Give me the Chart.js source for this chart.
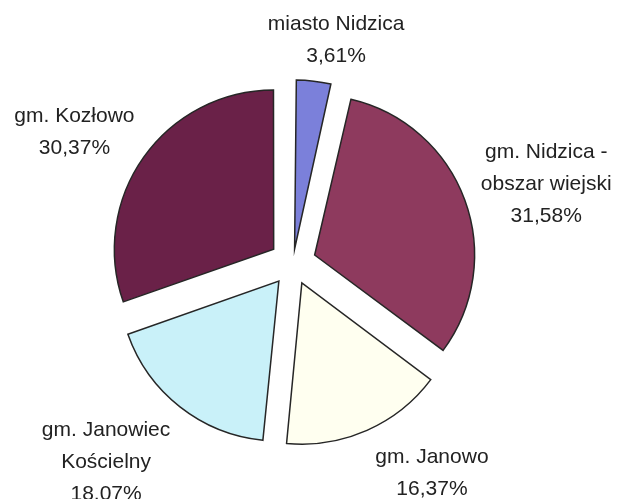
<!DOCTYPE html>
<html lang="pl">
<head>
<meta charset="utf-8">
<title>Struktura - gminy</title>
<script src="https://cdn.jsdelivr.net/npm/chart.js@4.4.1/dist/chart.umd.min.js"></script>
<style>
    html, body { margin: 0; padding: 0; background: #fff; }
    #wrap { width: 621px; height: 499px; }
</style>
</head>
<body>
<div id="wrap"><canvas id="pie" width="621" height="499"></canvas></div>
<script>
// Data
var categories = [
    ['miasto Nidzica'],
    ['gm. Nidzica -', 'obszar wiejski'],
    ['gm. Janowo'],
    ['gm. Janowiec', 'Kościelny'],
    ['gm. Kozłowo']
];
var shares = [3.61, 31.58, 16.37, 18.07, 30.37];
var sliceColors = ['#7b80da', '#8e3a5e', '#fffff0', '#c9f1f9', '#6a2148'];

(function () {
    "use strict";

    var explode = 25;   // px each slice is pulled out

    function formatShare(v) {
        return v.toFixed(2).replace('.', ',') + '%';
    }

    // Labels outside the slices, Excel-like
    var sliceLabels = {
        id: 'sliceLabels',
        afterDatasetsDraw: function (chart, args, opts) {
            var ctx = chart.ctx;
            var meta = chart.getDatasetMeta(0);
            ctx.save();
            ctx.font = opts.fontSize + 'px ' + opts.family;
            ctx.fillStyle = opts.color;
            ctx.textAlign = 'center';
            ctx.textBaseline = 'middle';
            meta.data.forEach(function (arc, i) {
                var lines = categories[i].concat(formatShare(shares[i]));
                var w = 0;
                lines.forEach(function (t) { w = Math.max(w, ctx.measureText(t).width); });
                var h = (lines.length - 1) * opts.lineHeight + opts.fontSize;
                var mid = (arc.startAngle + arc.endAngle) / 2;
                var r = arc.outerRadius + explode + opts.gap;
                var nudge = opts.nudge[i] || [0, 0];
                var cx = arc.x + Math.cos(mid) * (r + w / 2) + nudge[0];
                var cy = arc.y + Math.sin(mid) * (r + h / 2) + nudge[1];
                var y0 = cy - (lines.length - 1) * opts.lineHeight / 2;
                lines.forEach(function (t, k) {
                    ctx.fillText(t, cx, y0 + k * opts.lineHeight);
                });
            });
            ctx.restore();
        }
    };

    var ctx = document.getElementById('pie').getContext('2d');
    var pieChart = new Chart(ctx, {
        type: 'pie',
        data: {
            labels: categories,
            datasets: [{
                data: shares,
                backgroundColor: sliceColors,
                borderColor: '#262626',
                borderWidth: 1.5,
                borderJoinStyle: 'miter',
                // chart.js draws offset/4 * (1 + fix), undo that so every slice moves the same
                offset: function (c) {
                    var data = c.dataset.data;
                    var total = data.reduce(function (a, b) { return a + b; }, 0);
                    var circ = data[c.dataIndex] / total * 2 * Math.PI;
                    var fix = 1 - Math.sin(Math.min(Math.PI, circ));
                    return 4 * explode / (1 + fix);
                },
                radius: 158
            }]
        },
        options: {
            responsive: false,
            devicePixelRatio: 1,
            animation: false,
            events: [],
            layout: { padding: { left: 0, right: 35, top: 27, bottom: 0 } },
            plugins: {
                legend: { display: false },
                tooltip: { enabled: false },
                sliceLabels: {
                    family: '"Liberation Sans", Arial, sans-serif',
                    fontSize: 21,
                    lineHeight: 32,
                    color: '#222',
                    gap: 15,
                    nudge: [[13, 0], [6, 4], [36, 5], [-25, 10], [-8, -1]]
                }
            }
        },
        plugins: [sliceLabels]
    });
})();
</script>
</body>
</html>
